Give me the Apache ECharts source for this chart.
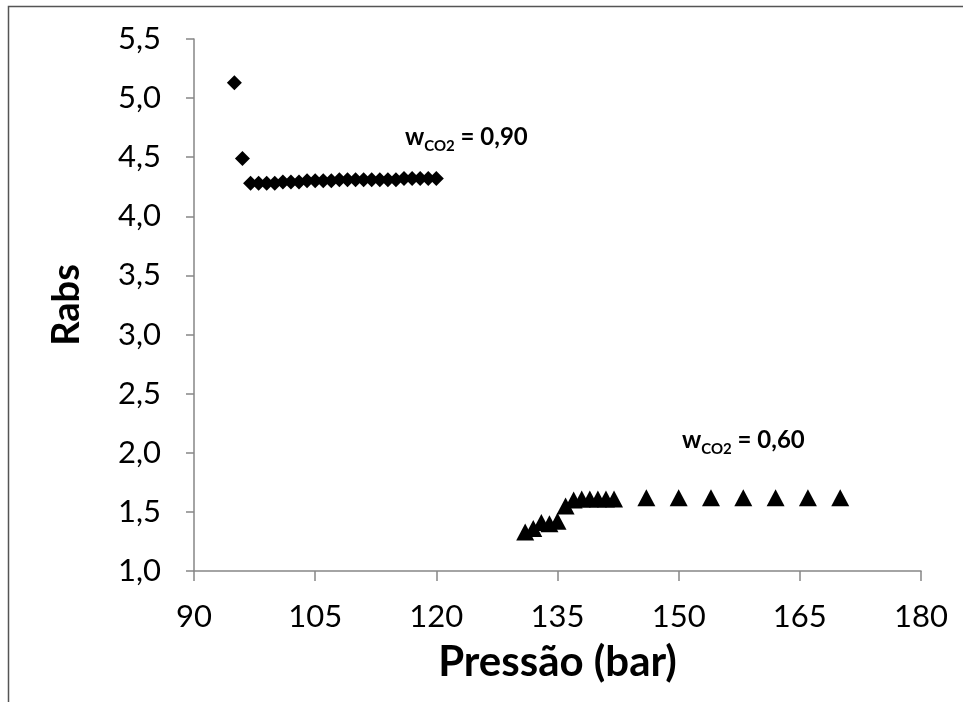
<!DOCTYPE html>
<html>
<head>
<meta charset="utf-8">
<script src="https://cdn.jsdelivr.net/npm/echarts@6/dist/echarts.min.js"></script>
<style>
html,body{margin:0;padding:0;background:#fff;}
#c{width:963px;height:702px;}
</style>
</head>
<body>
<div id="c"></div>
<script>
// Series w_CO2 = 0,90 (diamonds)
const p090 = [95, 96, 97, 98, 99, 100, 101, 102, 103, 104, 105, 106, 107, 108, 109, 110, 111, 112, 113, 114, 115, 116, 117, 118, 119, 120];
const r090 = [5.13, 4.49, 4.28, 4.28, 4.28, 4.28, 4.29, 4.29, 4.29, 4.30, 4.30, 4.30, 4.30, 4.31, 4.31, 4.31, 4.31, 4.31, 4.31, 4.31, 4.31, 4.32, 4.32, 4.32, 4.32, 4.32];
// Series w_CO2 = 0,60 (triangles)
const p060 = [131, 132, 133, 134, 135, 136, 137, 138, 139, 140, 141, 142, 146, 150, 154, 158, 162, 166, 170];
const r060 = [1.33, 1.36, 1.41, 1.40, 1.42, 1.55, 1.60, 1.61, 1.61, 1.61, 1.61, 1.61, 1.62, 1.62, 1.62, 1.62, 1.62, 1.62, 1.62];
// Axis ticks
const xTicks = [90, 105, 120, 135, 150, 165, 180];
const yTicks = [1.0, 1.5, 2.0, 2.5, 3.0, 3.5, 4.0, 4.5, 5.0, 5.5];
const xTitle = 'Pressão (bar)';
const yTitle = 'Rabs';

const chart = echarts.init(document.getElementById('c'));
const zip = (a, b) => a.map((v, i) => [v, b[i]]);
const FONT = 'Lato, "Liberation Sans", sans-serif';
const axisGray = '#868686';

const richLbl = {
  w: {fontFamily: FONT, fontWeight: 'bold', fontSize: 24, color: '#000', padding: [0, 0, 5, 0], verticalAlign: 'bottom'},
  sub: {fontFamily: FONT, fontWeight: 'bold', fontSize: 15, color: '#000', verticalAlign: 'bottom'},
  n: {fontFamily: FONT, fontWeight: 'bold', fontSize: 24, color: '#000', padding: [0, 0, 5, 0], verticalAlign: 'bottom'}
};

chart.setOption({
  animation: false,
  backgroundColor: '#fff',
  grid: {left: 194, right: 42, top: 39, bottom: 131, containLabel: false},
  xAxis: {
    type: 'value', min: xTicks[0], max: xTicks[xTicks.length - 1], interval: 15,
    name: xTitle, nameLocation: 'middle', nameGap: 70,
    nameTextStyle: {fontFamily: FONT, fontWeight: 'bold', fontSize: 42, color: '#000'},
    axisLine: {show: true, lineStyle: {color: axisGray, width: 1.5}},
    axisTick: {show: true, length: 10, lineStyle: {color: axisGray, width: 1.5}},
    splitLine: {show: false},
    axisLabel: {fontFamily: FONT, fontSize: 31, color: '#000', margin: 30}
  },
  yAxis: {
    type: 'value', min: 1.0, max: 5.5, interval: 0.5,
    name: yTitle, nameLocation: 'middle', nameGap: 108, nameRotate: 90,
    nameTextStyle: {fontFamily: FONT, fontWeight: 'bold', fontSize: 38, color: '#000'},
    axisLine: {show: true, lineStyle: {color: axisGray, width: 1.5}},
    axisTick: {show: true, length: 8, lineStyle: {color: axisGray, width: 1.5}},
    splitLine: {show: false},
    axisLabel: {fontFamily: FONT, fontSize: 31, color: '#000', margin: 33,
      formatter: v => v.toFixed(1).replace('.', ',')}
  },
  series: [
    {type: 'scatter', name: 'w090', data: zip(p090, r090), symbol: 'diamond', symbolSize: [15, 15],
     itemStyle: {color: '#000', opacity: 1}},
    {type: 'scatter', name: 'w060', data: zip(p060, r060), symbol: 'triangle', symbolSize: [18, 17],
     itemStyle: {color: '#000', opacity: 1}}
  ],
  graphic: [
    {type: 'rect', shape: {x: 8.5, y: 6.5, width: 1200, height: 1200},
     style: {fill: 'none', stroke: '#555', lineWidth: 1.5}, silent: true, z: -1},
    {type: 'text', left: 405, top: 125,
     style: {text: '{w|w}{sub|CO2}{n| = 0,90}', rich: richLbl}},
    {type: 'text', left: 682, top: 428,
     style: {text: '{w|w}{sub|CO2}{n| = 0,60}', rich: richLbl}}
  ]
});
</script>
</body>
</html>
